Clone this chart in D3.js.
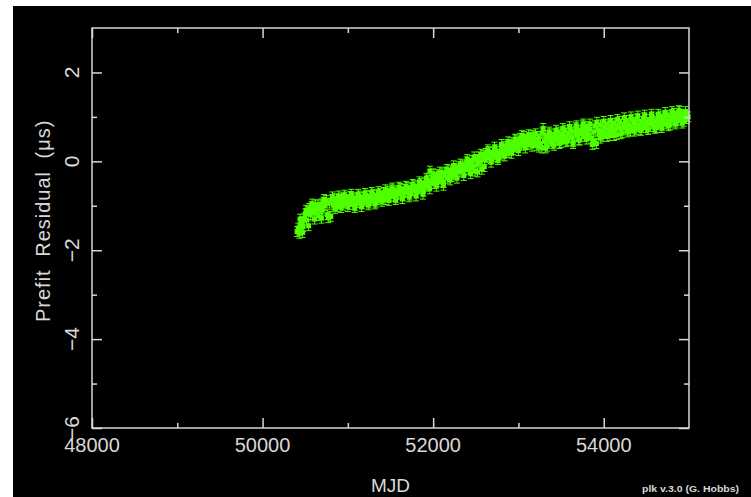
<!DOCTYPE html>
<html><head><meta charset="utf-8">
<script src="https://cdn.jsdelivr.net/npm/d3@7"></script>
<style>html,body{margin:0;padding:0;background:#fff;} svg{display:block}</style>
</head><body>
<svg id="c" width="751" height="497"></svg>
<script>
// ---- data ----
const xDomain = [48000, 55000];
const yDomain = [-6, 3];
const xMajorTicks = [48000, 50000, 52000, 54000];
const xMinorTicks = [49000, 51000, 53000];
const yMajorTicks = [-6, -4, -2, 0, 2];
const yMinorTicks = [-5, -3, -1, 1];
const xTickLabels = ["48000", "50000", "52000", "54000"];
const yTickLabels = ["\u22126", "\u22124", "\u22122", "0", "2"];
const xTitle = "MJD";
const yTitle = "Prefit Residual (\u03bcs)";
const credit = "plk v.3.0 (G. Hobbs)";
const toaError = 0.11; // microseconds
// [MJD, residual (us)]
const toas = [
[50405,-1.58],[50418,-1.50],[50432,-1.62],[50447,-1.42],[50460,-1.36],[50474,-1.47],[50488,-1.28],[50502,-1.18],[50515,-1.32],[50530,-1.12],[50545,-1.06],[50560,-1.20],[50575,-1.02],[50590,-1.10],[50605,-1.15],[50620,-0.98],[50636,-1.08],[50652,-1.22],[50668,-1.04],[50684,-0.96],[50700,-1.10],
[50716,-0.92],[50732,-1.00],[50748,-0.88],[50770,-1.27],[50785,-0.94],[50800,-1.24],[50815,-0.86],[50830,-0.98],[50846,-0.84],[50862,-0.93],[50878,-1.02],[50894,-0.86],[50910,-0.95],[50926,-0.82],[50942,-0.99],[50958,-0.88],[50974,-0.80],[50990,-0.94],
[51006,-0.86],[51022,-0.97],[51038,-0.79],[51054,-0.90],[51070,-0.84],[51086,-1.00],[51102,-0.82],[51118,-0.93],[51134,-0.78],[51150,-0.88],[51166,-0.96],[51182,-0.81],[51198,-0.90],[51214,-0.76],[51230,-0.86],[51246,-0.94],[51262,-0.79],[51278,-0.88],[51294,-0.74],[51310,-0.84],[51326,-0.92],[51342,-0.77],[51358,-0.86],[51374,-0.72],[51390,-0.82],
[51406,-0.80],[51422,-0.70],[51438,-0.86],[51454,-0.74],[51470,-0.67],[51486,-0.80],[51502,-0.72],[51518,-0.64],[51534,-0.78],[51550,-0.69],[51566,-0.82],[51582,-0.66],[51598,-0.74],[51614,-0.61],[51630,-0.72],[51646,-0.78],[51662,-0.63],[51678,-0.70],[51694,-0.58],[51710,-0.68],[51726,-0.76],[51742,-0.60],[51758,-0.66],[51774,-0.55],[51790,-0.64],[51806,-0.71],[51822,-0.57],[51838,-0.62],[51854,-0.50],[51870,-0.60],[51886,-0.67],
[51902,-0.48],[51918,-0.56],[51934,-0.42],[51950,-0.52],[51962,-0.22],[51978,-0.44],[51994,-0.36],[52010,-0.50],[52026,-0.40],[52042,-0.30],[52058,-0.46],[52074,-0.34],[52090,-0.40],[52106,-0.26],[52122,-0.48],[52138,-0.32],[52154,-0.24],[52170,-0.38],[52186,-0.30],[52202,-0.20],[52218,-0.34],[52234,-0.26],[52250,-0.16],[52266,-0.30],[52282,-0.22],[52298,-0.12],
[52314,-0.24],[52330,-0.16],[52346,-0.08],[52362,-0.20],[52378,-0.12],[52394,-0.01],[52410,-0.18],[52426,-0.06],[52442,-0.14],[52458,0.02],[52474,-0.10],[52490,-0.22],[52506,0.04],[52522,-0.06],[52538,0.10],[52554,0.00],[52570,-0.18],[52586,0.14],[52602,0.04],[52618,0.18],[52634,0.08],[52650,0.22],[52666,0.12],[52682,0.06],[52698,0.20],[52714,0.10],[52730,0.26],[52746,0.16],[52762,0.08],[52778,0.22],[52794,0.14],
[52810,0.28],[52826,0.18],[52842,0.34],[52858,0.24],[52874,0.38],[52890,0.20],[52906,0.30],[52922,0.42],[52938,0.26],[52954,0.36],[52970,0.48],[52986,0.32],[53002,0.40],[53018,0.52],[53034,0.36],[53050,0.46],[53066,0.56],[53082,0.40],[53098,0.50],[53114,0.38],[53130,0.54],[53146,0.44],[53162,0.58],[53178,0.42],[53194,0.50],
[53210,0.36],[53226,0.48],[53242,0.56],[53258,0.40],[53274,0.30],[53290,0.74],[53306,0.46],[53322,0.58],[53338,0.34],[53354,0.50],[53370,0.62],[53386,0.44],[53402,0.54],[53418,0.36],[53434,0.60],[53450,0.48],[53466,0.66],[53482,0.52],[53498,0.42],[53514,0.62],[53530,0.50],[53546,0.70],[53562,0.56],[53578,0.46],[53594,0.64],
[53610,0.72],[53626,0.54],[53642,0.44],[53658,0.66],[53674,0.76],[53690,0.58],[53706,0.48],[53722,0.70],[53738,0.62],[53754,0.80],[53770,0.56],[53786,0.68],[53802,0.78],[53818,0.60],[53834,0.72],[53850,0.52],[53866,0.38],[53882,0.66],[53898,0.80],[53914,0.40],[53930,0.70],[53946,0.60],[53962,0.82],[53978,0.68],[53994,0.56],[54010,0.76],[54026,0.64],[54042,0.84],[54058,0.70],[54074,0.58],[54090,0.78],
[54106,0.66],[54122,0.86],[54138,0.72],[54154,0.60],[54170,0.80],[54186,0.90],[54202,0.74],[54218,0.64],[54234,0.84],[54250,0.76],[54266,0.92],[54282,0.70],[54298,0.82],[54314,0.68],[54330,0.94],[54346,0.78],[54362,0.88],[54378,0.72],[54394,0.96],[54410,0.80],[54426,0.70],[54442,0.90],[54458,0.82],[54474,0.98],[54490,0.76],[54506,0.88],[54522,0.72],[54538,0.94],[54554,0.84],[54570,1.00],[54586,0.78],
[54602,0.90],[54618,0.76],[54634,0.96],[54650,0.86],[54666,1.02],[54682,0.80],[54698,0.92],[54714,0.98],[54730,0.84],[54746,1.04],[54762,0.90],[54778,0.82],[54794,1.00],[54810,0.94],[54826,1.08],[54842,0.88],[54858,1.02],[54874,0.92],[54890,1.12],[54906,0.98],[54922,1.06],[54938,0.90],[54954,1.04],[54970,0.96],[54990,1.00],
// second set of observations, read from the upper and lower edges of the band
[50440,-1.30],[50470,-1.60],[50510,-1.10],[50540,-1.45],[50580,-0.96],[50610,-1.30],[50650,-0.98],[50690,-1.28],[50720,-0.86],[50760,-1.20],[50820,-0.80],[50850,-1.06],[50890,-0.78],[50920,-1.04],[50960,-0.76],[51000,-1.02],
[51040,-0.74],[51080,-1.04],[51120,-0.74],[51160,-1.02],[51200,-0.72],[51240,-0.98],[51280,-0.70],[51320,-0.96],[51360,-0.68],[51400,-0.90],[51440,-0.64],[51480,-0.88],[51520,-0.60],[51560,-0.86],[51600,-0.58],[51640,-0.84],
[51680,-0.56],[51720,-0.80],[51760,-0.52],[51800,-0.78],[51840,-0.46],[51880,-0.74],[51920,-0.38],[51960,-0.62],[52000,-0.28],[52040,-0.56],[52080,-0.24],[52120,-0.54],[52160,-0.18],[52200,-0.42],[52240,-0.10],[52280,-0.38],
[52320,-0.06],[52360,-0.32],[52400,0.04],[52440,-0.28],[52480,0.10],[52520,-0.24],[52560,0.16],[52600,-0.12],[52640,0.26],[52680,-0.02],[52720,0.32],[52760,0.04],[52800,0.38],[52840,0.12],[52880,0.44],[52920,0.18],
[52960,0.50],[53000,0.24],[53040,0.58],[53080,0.30],[53120,0.60],[53160,0.34],[53200,0.62],[53240,0.32],[53280,0.64],[53320,0.30],[53360,0.66],[53400,0.40],[53440,0.70],[53480,0.40],[53520,0.74],[53560,0.44],
[53600,0.78],[53640,0.40],[53680,0.80],[53720,0.48],[53760,0.84],[53800,0.50],[53840,0.84],[53880,0.46],[53920,0.88],[53960,0.52],[54000,0.90],[54040,0.56],[54080,0.92],[54120,0.58],[54160,0.94],[54200,0.62],
[54240,0.98],[54280,0.66],[54320,1.00],[54360,0.68],[54400,1.02],[54440,0.70],[54480,1.04],[54520,0.72],[54560,1.06],[54600,0.74],[54640,1.06],[54680,0.76],[54720,1.10],[54760,0.80],[54800,1.12],[54840,0.84],[54880,1.14],[54920,0.86],[54960,1.12]
];

// ---- drawing ----
const svg = d3.select("#c");
const frame = {left: 92, right: 689, top: 28, bottom: 428};
const fg = "#d8d8d8";
const green = "#50ff00";
const fontFam = "'Liberation Sans', Arial, sans-serif";

svg.append("rect").attr("x", 13).attr("y", 6).attr("width", 751 - 13).attr("height", 497 - 6).attr("fill", "#000");

const x = d3.scaleLinear().domain(xDomain).range([frame.left, frame.right]);
const y = d3.scaleLinear().domain(yDomain).range([frame.bottom, frame.top]);

// data: error bars + squares
const pts = svg.append("g");
const capW = 3, sq = 5;
toas.forEach(([m, r]) => {
  const cx = x(m), y1 = y(r + toaError), y2 = y(r - toaError);
  pts.append("line").attr("x1", cx).attr("x2", cx).attr("y1", y1).attr("y2", y2).attr("stroke", green).attr("stroke-width", 1);
  pts.append("line").attr("x1", cx - capW).attr("x2", cx + capW).attr("y1", y1).attr("y2", y1).attr("stroke", green).attr("stroke-width", 1);
  pts.append("line").attr("x1", cx - capW).attr("x2", cx + capW).attr("y1", y2).attr("y2", y2).attr("stroke", green).attr("stroke-width", 1);
  pts.append("rect").attr("x", cx - sq / 2).attr("y", y(r) - sq / 2).attr("width", sq).attr("height", sq).attr("fill", green);
});

// frame
svg.append("rect").attr("x", frame.left).attr("y", frame.top)
  .attr("width", frame.right - frame.left).attr("height", frame.bottom - frame.top)
  .attr("fill", "none").attr("stroke", fg).attr("stroke-width", 1.5);

// axes using d3 axis generators (ticks inward)
function styleAxis(g) {
  g.select(".domain").remove();
  g.selectAll("line").attr("stroke", fg).attr("stroke-width", 1.5);
  g.selectAll("text").remove();
}
const majorLen = 10, minorLen = 5;
svg.append("g").attr("transform", `translate(0,${frame.bottom})`)
  .call(d3.axisBottom(x).tickValues(xMajorTicks).tickSize(-majorLen)).call(styleAxis);
svg.append("g").attr("transform", `translate(0,${frame.bottom})`)
  .call(d3.axisBottom(x).tickValues(xMinorTicks).tickSize(-minorLen)).call(styleAxis);
svg.append("g").attr("transform", `translate(0,${frame.top})`)
  .call(d3.axisTop(x).tickValues(xMajorTicks).tickSize(-majorLen)).call(styleAxis);
svg.append("g").attr("transform", `translate(0,${frame.top})`)
  .call(d3.axisTop(x).tickValues(xMinorTicks).tickSize(-minorLen)).call(styleAxis);
svg.append("g").attr("transform", `translate(${frame.left},0)`)
  .call(d3.axisLeft(y).tickValues(yMajorTicks).tickSize(-majorLen)).call(styleAxis);
svg.append("g").attr("transform", `translate(${frame.left},0)`)
  .call(d3.axisLeft(y).tickValues(yMinorTicks).tickSize(-minorLen)).call(styleAxis);
svg.append("g").attr("transform", `translate(${frame.right},0)`)
  .call(d3.axisRight(y).tickValues(yMajorTicks).tickSize(-majorLen)).call(styleAxis);
svg.append("g").attr("transform", `translate(${frame.right},0)`)
  .call(d3.axisRight(y).tickValues(yMinorTicks).tickSize(-minorLen)).call(styleAxis);

// tick labels
svg.append("g").selectAll("text").data(xMajorTicks).join("text")
  .attr("x", d => x(d)).attr("y", 452)
  .attr("text-anchor", "middle").attr("fill", fg)
  .attr("font-family", fontFam).attr("font-size", 20)
  .text((d, i) => xTickLabels[i]);

svg.append("g").selectAll("text").data(yMajorTicks).join("text")
  .attr("transform", d => `translate(79,${y(d)}) rotate(-90)`)
  .attr("text-anchor", "middle").attr("fill", fg)
  .attr("font-family", fontFam).attr("font-size", 21)
  .text((d, i) => yTickLabels[i]);

// titles
svg.append("text").attr("x", (frame.left + frame.right) / 2).attr("y", 492)
  .attr("text-anchor", "middle").attr("fill", fg)
  .attr("font-family", fontFam).attr("font-size", 19).text(xTitle);

svg.append("text").attr("transform", "translate(50,322) rotate(-90)")
  .attr("text-anchor", "start").attr("fill", fg)
  .attr("font-family", fontFam).attr("font-size", 20)
  .attr("word-spacing", 6).attr("letter-spacing", 1)
  .text(yTitle);

svg.append("text").attr("x", 642).attr("y", 492)
  .attr("fill", fg).attr("font-family", fontFam).attr("font-size", 9).attr("font-weight", "bold")
  .attr("textLength", 97).attr("lengthAdjust", "spacingAndGlyphs")
  .text(credit);
</script>
</body></html>
